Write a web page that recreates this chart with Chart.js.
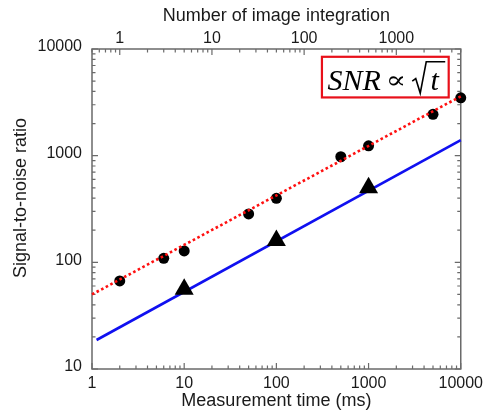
<!DOCTYPE html>
<html><head><meta charset="utf-8">
<script src="https://cdn.jsdelivr.net/npm/chart.js@4/dist/chart.umd.min.js"></script>
<style>html,body{margin:0;padding:0;background:#fff}</style>
</head><body>
<canvas id="c" width="488" height="416"></canvas>
<script>
// ---- data ----
const timeCircles = [2, 6, 10, 50, 100, 500, 1000, 5000, 10000];
const snrCircles  = [67, 109, 128, 284, 398, 977, 1238, 2440, 3490];
const timeTriangles = [10, 100, 1000];
const snrTriangles  = [56, 160, 500];
const redFitTime = [1, 10000];
const redFitSnr  = [50, 3600];
const blueFitTime = [1.12, 10000];
const blueFitSnr  = [18.7, 1400];
const bottomTickLabels = [1, 10, 100, 1000, 10000];
const topTickLabels = [1, 10, 100, 1000];
const yTickLabels = [10, 100, 1000, 10000];

const pts = (xs, ys) => xs.map((x, i) => ({x, y: ys[i]}));

const SANS = '"Liberation Sans", Arial, sans-serif';
const TXT = '#1a1a1a';
const AXIS = '#6a6a6a';
const annotation = {xMin: 312, xMax: 7400, yMin: 3515, yMax: 8450};

function logTicks(lo, hi) {
  const out = [];
  for (let d = Math.floor(Math.log10(lo)) - 1; d <= Math.ceil(Math.log10(hi)); d++) {
    for (let m = 1; m <= 9; m++) {
      const v = m * Math.pow(10, d);
      if (v >= lo * 0.9999 && v <= hi * 1.0001) out.push({v, major: m === 1});
    }
  }
  return out;
}

const framePlugin = {
  id: 'frame',
  beforeDatasetsDraw(chart) {
    const {ctx, chartArea: a, scales} = chart;
    ctx.save();
    ctx.strokeStyle = AXIS;
    ctx.lineWidth = 1.5;
    ctx.strokeRect(a.left, a.top, a.right - a.left, a.bottom - a.top);
    ctx.lineWidth = 1.2;
    const MJ = 6, MN = 3.5;
    ctx.beginPath();
    logTicks(scales.x.min, scales.x.max).forEach(t => {
      const p = scales.x.getPixelForValue(t.v);
      const L = t.major ? MJ : MN;
      ctx.moveTo(p, a.bottom); ctx.lineTo(p, a.bottom - L);
    });
    logTicks(scales.x2.min, scales.x2.max).forEach(t => {
      const p = scales.x2.getPixelForValue(t.v);
      const L = t.major ? MJ : MN;
      ctx.moveTo(p, a.top); ctx.lineTo(p, a.top + L);
    });
    logTicks(scales.y.min, scales.y.max).forEach(t => {
      const p = scales.y.getPixelForValue(t.v);
      const L = t.major ? MJ : MN;
      ctx.moveTo(a.left, p); ctx.lineTo(a.left + L, p);
      ctx.moveTo(a.right, p); ctx.lineTo(a.right - L, p);
    });
    ctx.stroke();

    // y title
    ctx.fillStyle = TXT;
    ctx.font = '18px ' + SANS;
    ctx.textAlign = 'center';
    ctx.textBaseline = 'middle';
    ctx.translate(21, (a.top + a.bottom) / 2 - 11);
    ctx.rotate(-Math.PI / 2);
    ctx.fillText('Signal-to-noise ratio', 0, 0);
    ctx.restore();
  },
  afterDraw(chart) {
    const {ctx, scales} = chart;
    // annotation box
    const bx0 = scales.x.getPixelForValue(annotation.xMin);
    const bx1 = scales.x.getPixelForValue(annotation.xMax);
    const by0 = scales.y.getPixelForValue(annotation.yMax);
    const by1 = scales.y.getPixelForValue(annotation.yMin);
    ctx.save();
    ctx.fillStyle = '#fff';
    ctx.fillRect(bx0, by0, bx1 - bx0, by1 - by0);
    ctx.strokeStyle = '#e8101a';
    ctx.lineWidth = 2.2;
    ctx.strokeRect(bx0, by0, bx1 - bx0, by1 - by0);
    ctx.fillStyle = '#000';
    ctx.strokeStyle = '#000';
    ctx.textBaseline = 'alphabetic';
    ctx.textAlign = 'left';
    const base = by0 + 33.3;
    ctx.font = 'italic 30px "Liberation Serif", "Times New Roman", serif';
    ctx.fillText('SNR', bx0 + 5.6, base);
    ctx.font = '28px "DejaVu Serif", "Liberation Serif", serif';
    const w = ctx.measureText('\u221D').width;
    ctx.save();
    ctx.translate(bx0 + 63.5, base - 2);
    ctx.scale(20.5 / w, 0.85);
    ctx.fillText('\u221D', 0, 0);
    ctx.restore();
    // radical
    ctx.lineWidth = 1.6;
    ctx.lineJoin = 'miter';
    ctx.beginPath();
    ctx.moveTo(bx0 + 90.3, base - 9);
    ctx.lineTo(bx0 + 93.8, base - 11.5);
    ctx.lineTo(bx0 + 98.3, base + 3);
    ctx.lineTo(bx0 + 104.3, base - 28.3);
    ctx.lineTo(bx0 + 123.3, base - 28.3);
    ctx.stroke();
    ctx.font = 'italic 30px "Liberation Serif", "Times New Roman", serif';
    ctx.fillText('t', bx0 + 108.5, base);
    ctx.restore();
  }
};

new Chart(document.getElementById('c'), {
  type: 'scatter',
  data: {
    datasets: [
      {label: 'fit (dotted)', data: pts(redFitTime, redFitSnr), showLine: true, clip: false,
       borderColor: '#ff1010', borderWidth: 2.6, borderDash: [2.6, 2.6], pointRadius: 0, fill: false},
      {label: 'SNR', data: pts(timeCircles, snrCircles), pointStyle: 'circle', clip: false,
       pointRadius: 5.5, backgroundColor: '#000', borderColor: '#000', borderWidth: 0},
      {label: 'SNR2', data: pts(timeTriangles, snrTriangles), pointStyle: 'triangle', clip: false,
       pointRadius: 11, backgroundColor: '#000', borderColor: '#000', borderWidth: 0},
      {label: 'fit (solid)', data: pts(blueFitTime, blueFitSnr), showLine: true, clip: false,
       borderColor: '#1010f0', borderWidth: 2.6, pointRadius: 0, fill: false}
    ]
  },
  options: {
    responsive: false,
    animation: false,
    devicePixelRatio: 1,
    layout: {padding: {left: 0, right: 26, top: 0, bottom: 0}},
    plugins: {legend: {display: false}, tooltip: {enabled: false}},
    scales: {
      x: {
        type: 'logarithmic', position: 'bottom', min: 1, max: 10000,
        afterBuildTicks: s => { s.ticks = bottomTickLabels.map(v => ({value: v})); },
        afterFit: s => { s.height = 47; },
        grid: {display: false, drawTicks: false}, border: {display: false},
        ticks: {callback: v => String(v), font: {family: SANS, size: 16}, color: TXT,
                padding: 5, maxRotation: 0, autoSkip: false},
        title: {display: true, text: 'Measurement time (ms)', font: {family: SANS, size: 18},
                color: TXT, padding: {top: 0, bottom: 4}}
      },
      x2: {
        type: 'logarithmic', position: 'top', min: 0.5, max: 5000,
        afterBuildTicks: s => { s.ticks = topTickLabels.map(v => ({value: v})); },
        afterFit: s => { s.height = 49; },
        grid: {display: false, drawTicks: false}, border: {display: false},
        ticks: {callback: v => String(v), font: {family: SANS, size: 16}, color: TXT,
                padding: 1, maxRotation: 0, autoSkip: false},
        title: {display: true, text: 'Number of image integration', font: {family: SANS, size: 18},
                color: TXT, padding: {top: 5, bottom: 0}}
      },
      y: {
        type: 'logarithmic', position: 'left', min: 10, max: 10000,
        afterBuildTicks: s => { s.ticks = yTickLabels.map(v => ({value: v})); },
        afterFit: s => { s.width = 92; },
        grid: {display: false, drawTicks: false}, border: {display: false},
        ticks: {callback: v => String(v), font: {family: SANS, size: 16}, color: TXT,
                padding: 10, labelOffset: -2, autoSkip: false}
      }
    }
  },
  plugins: [framePlugin]
});
</script>
</body></html>
